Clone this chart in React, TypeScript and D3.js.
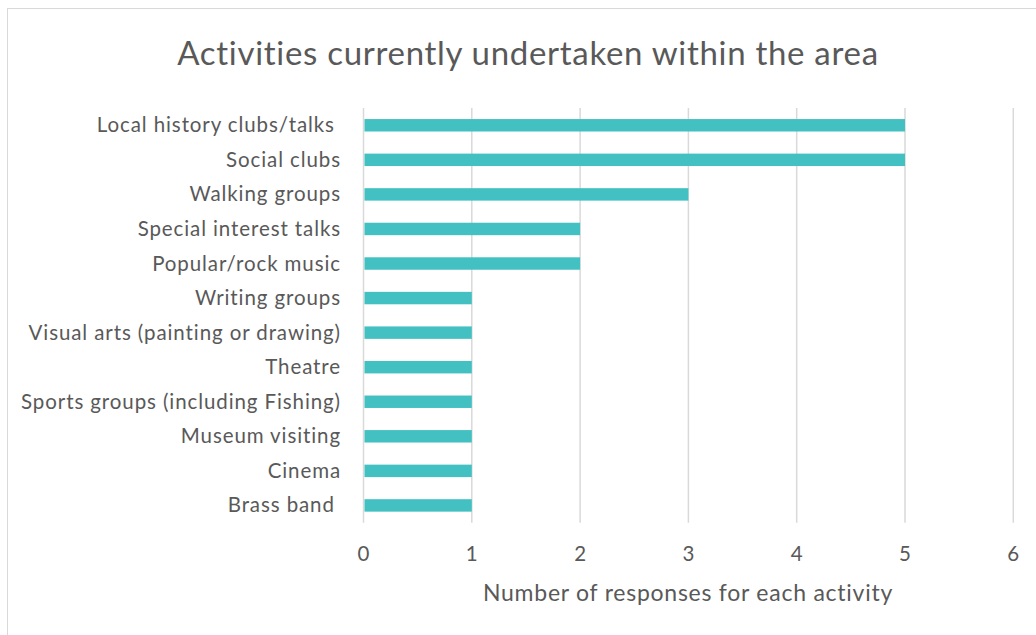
import React from "react";
import * as d3 from "d3";

const categories = [
  "Local history clubs/talks ",
  "Social clubs",
  "Walking groups",
  "Special interest talks",
  "Popular/rock music",
  "Writing groups",
  "Visual arts (painting or drawing)",
  "Theatre",
  "Sports groups (including Fishing)",
  "Museum visiting",
  "Cinema",
  "Brass band ",
];
const values = [5, 5, 3, 2, 2, 1, 1, 1, 1, 1, 1, 1];
const ticks = [0, 1, 2, 3, 4, 5, 6];
const title = "Activities currently undertaken within the area";
const xTitle = "Number of responses for each activity";

const W = 1036;
const H = 635;
const FONT = "Lato, 'Open Sans', sans-serif";
const TEXT = "#595959";

export default function App() {
  const x = d3.scaleLinear().domain([0, 6]).range([363.5, 1013.3]);
  const y = d3
    .scaleBand<string>()
    .domain(categories)
    .range([108, 522.7])
    .paddingInner(0.64)
    .paddingOuter(0.32);
  const top = 108;
  const bottom = 522.7;
  return (
    <svg
      width={W}
      height={H}
      style={{ position: "absolute", left: 0, top: 0, background: "#fff" }}
    >
      <rect x={7.5} y={8.5} width={W + 10} height={H + 10} fill="#fff" stroke="#d9d9d9" strokeWidth={1} />
      <text x={528} y={65} textAnchor="middle" fontFamily={FONT} fontSize={33} letterSpacing={0.7} fill={TEXT}>
        {title}
      </text>
      {ticks.map((t) => (
        <g key={t}>
          <line x1={x(t)} x2={x(t)} y1={top} y2={bottom} stroke="#d9d9d9" strokeWidth={1.5} />
          <text x={x(t)} y={561} textAnchor="middle" fontFamily={FONT} fontSize={20.5} fill={TEXT}>
            {t}
          </text>
        </g>
      ))}
      {categories.map((c, i) => (
        <g key={c}>
          <rect
            x={x(0) + 1}
            y={y(c)!}
            width={x(values[i]) - x(0) - 1}
            height={y.bandwidth()}
            fill="#43C0C2"
          />
          <text
            x={341}
            y={y(c)! + y.bandwidth() / 2 + 7}
            textAnchor="end"
            fontFamily={FONT}
            fontSize={20.5}
            letterSpacing={0.9}
            fill={TEXT}
            style={{ whiteSpace: "pre" }}
          >
            {c}
          </text>
        </g>
      ))}
      <text x={688} y={601} textAnchor="middle" fontFamily={FONT} fontSize={23} letterSpacing={0.75} fill={TEXT}>
        {xTitle}
      </text>
    </svg>
  );
}
